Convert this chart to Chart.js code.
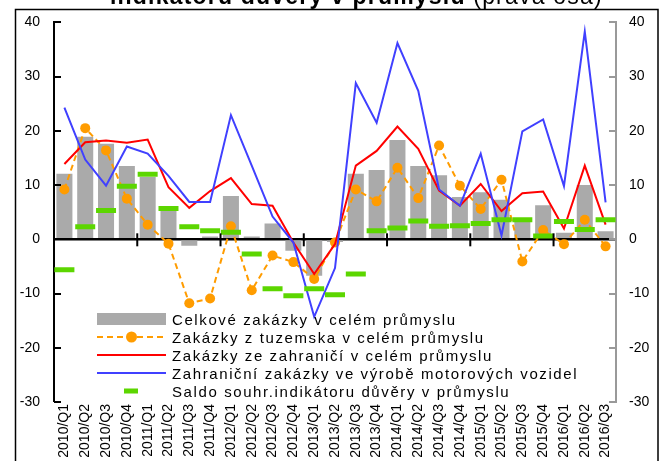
<!DOCTYPE html>
<html>
<head>
<meta charset="utf-8">
<script src="https://cdn.jsdelivr.net/npm/chart.js@4.4.0/dist/chart.umd.min.js"></script>
<style>
html,body{margin:0;padding:0;background:#fff;}
#wrap{width:662px;height:461px;position:relative;overflow:hidden;}
</style>
</head>
<body>
<div id="wrap"><canvas id="graf" width="662" height="461"></canvas></div>
<script>
var kvartaly = ['2010/Q1','2010/Q2','2010/Q3','2010/Q4','2011/Q1','2011/Q2','2011/Q3','2011/Q4',
	'2012/Q1','2012/Q2','2012/Q3','2012/Q4','2013/Q1','2013/Q2','2013/Q3','2013/Q4',
	'2014/Q1','2014/Q2','2014/Q3','2014/Q4','2015/Q1','2015/Q2','2015/Q3','2015/Q4',
	'2016/Q1','2016/Q2','2016/Q3'];
var celkove = [12.1, 18.9, 17.6, 13.5, 11.5, 5.5, -1.2, 0.5, 8.0, 0.5, 2.9, -2.1, -6.7, -0.5,
	12.1, 12.8, 18.3, 13.5, 11.8, 7.8, 8.7, 7.3, 3.3, 6.3, 1.2, 10.0, 1.5];
var tuzemsko = [9.2, 20.5, 16.4, 7.5, 2.7, -0.8, -11.8, -10.9, 2.4, -9.4, -3.0, -4.2, -7.3, -0.6,
	9.2, 7.0, 13.2, 7.6, 17.3, 9.9, 5.6, 11.0, -4.1, 1.7, -0.9, 3.6, -1.3];
var zahranici = [13.9, 17.9, 18.2, 17.8, 18.4, 9.6, 5.8, 8.9, 11.3, 6.5, 6.2, -0.6, -6.4, -0.9,
	13.6, 16.3, 20.8, 16.7, 9.0, 6.2, 10.2, 5.2, 8.5, 8.8, 2.0, 13.6, 2.7];
var vozidla = [24.3, 14.7, 9.9, 17.1, 15.8, 11.7, 6.9, 6.9, 22.9, 13.6, 4.2, -0.6, -14.3, -5.3,
	28.8, 21.5, 36.2, 27.4, 9.2, 6.2, 15.8, 0.7, 19.9, 22.1, 9.8, 38.3, 6.8];
var saldo = [-5.6, 2.3, 5.3, 9.8, 12.0, 5.7, 2.3, 1.6, 1.3, -2.7, -9.1, -10.4, -9.1, -10.2,
	-6.4, 1.6, 2.1, 3.4, 2.4, 2.5, 2.9, 3.6, 3.6, 0.6, 3.3, 1.8, 3.6];
var osaMin = -30, osaMax = 40, osaKrok = 10;

var sediva = '#aaaaaa', oranzova = '#ff9c00', cervena = '#ff0000', modra = '#4040ff', zelena = '#5cd600';

// ramecek, titulek, ticky na osach a legenda
var kresleni = {
	id: 'kresleni',
	beforeDraw: function(chart) {
		var ctx = chart.ctx;
		ctx.save();
		ctx.fillStyle = '#fff';
		ctx.fillRect(0, 0, chart.width, chart.height);
		ctx.strokeStyle = '#000';
		ctx.lineWidth = 1.5;
		ctx.beginPath();
		ctx.moveTo(15.5, 470); ctx.lineTo(15.5, 9.5); ctx.lineTo(658, 9.5); ctx.lineTo(658, 470);
		ctx.stroke();
		// titulek (useknuty nahore)
		ctx.fillStyle = '#000';
		ctx.textBaseline = 'alphabetic';
		if ('letterSpacing' in ctx) ctx.letterSpacing = '1.2px';
		ctx.font = 'bold 23px "Liberation Sans", Arial, sans-serif';
		var t1 = 'indikátoru důvěry v průmyslu ';
		ctx.fillText(t1, 110, 4);
		var w = ctx.measureText(t1).width;
		ctx.font = '23px "Liberation Sans", Arial, sans-serif';
		ctx.fillText('(pravá osa)', 110 + w, 4);
		ctx.restore();
	},
	afterDraw: function(chart) {
		var ctx = chart.ctx;
		var a = chart.chartArea;
		var y = chart.scales.y, y2 = chart.scales.y2, x = chart.scales.x;
		ctx.save();
		// ticky dovnitr
		ctx.lineWidth = 2;
		y.ticks.forEach(function(t) {
			var p = Math.round(y.getPixelForValue(t.value));
			ctx.strokeStyle = '#000';
			ctx.beginPath(); ctx.moveTo(a.left, p); ctx.lineTo(a.left + 7, p); ctx.stroke();
		});
		y2.ticks.forEach(function(t) {
			var p = Math.round(y2.getPixelForValue(t.value));
			ctx.strokeStyle = '#999';
			ctx.beginPath(); ctx.moveTo(a.right, p); ctx.lineTo(a.right - 7, p); ctx.stroke();
		});
		// ticky na nulove ose po rocich
		var nula = y.getPixelForValue(0);
		ctx.strokeStyle = '#000';
		for (var i = 4; i < kvartaly.length; i += 4) {
			var px = (x.getPixelForValue(i - 1) + x.getPixelForValue(i)) / 2;
			ctx.beginPath(); ctx.moveTo(px, nula - 6); ctx.lineTo(px, nula + 7); ctx.stroke();
		}
		// legenda
		var ds = chart.data.datasets;
		var x0 = 97, x1 = 166, tx = 172, y0 = 319, krok = 18;
		ctx.font = '15px "Liberation Sans", Arial, sans-serif';
		if ('letterSpacing' in ctx) ctx.letterSpacing = '1.6px';
		ctx.textBaseline = 'alphabetic';
		ds.forEach(function(d, k) {
			var cy = y0 + k * krok;
			ctx.setLineDash([]);
			if (k === 0) {
				ctx.fillStyle = sediva;
				ctx.fillRect(x0, cy - 6, x1 - x0, 12);
			} else if (k === 1) {
				ctx.strokeStyle = oranzova; ctx.lineWidth = 2; ctx.setLineDash([6, 4]);
				ctx.beginPath(); ctx.moveTo(x0, cy); ctx.lineTo(x1, cy); ctx.stroke();
				ctx.setLineDash([]);
				ctx.fillStyle = oranzova;
				ctx.beginPath(); ctx.arc((x0 + x1) / 2, cy, 5.5, 0, Math.PI * 2); ctx.fill();
			} else if (k === 4) {
				ctx.fillStyle = zelena;
				ctx.fillRect(124, cy - 2.5, 14, 5);
			} else {
				ctx.strokeStyle = d.borderColor; ctx.lineWidth = 2;
				ctx.beginPath(); ctx.moveTo(x0, cy); ctx.lineTo(x1, cy); ctx.stroke();
			}
			ctx.fillStyle = '#000';
			ctx.fillText(d.label, tx, cy + 6);
		});
		ctx.restore();
	}
};

var ctx = document.getElementById('graf');
var graf = new Chart(ctx, {
	type: 'bar',
	data: {
		labels: kvartaly,
		datasets: [
			{
				label: 'Celkové zakázky v celém průmyslu',
				data: celkove,
				backgroundColor: sediva,
				barPercentage: 0.77,
				categoryPercentage: 1,
				yAxisID: 'y',
				order: 5
			},
			{
				type: 'line',
				label: 'Zakázky z tuzemska v celém průmyslu',
				data: tuzemsko,
				borderColor: oranzova,
				backgroundColor: oranzova,
				borderWidth: 2,
				borderDash: [6, 4],
				pointRadius: 5,
				pointBorderWidth: 0,
				pointBackgroundColor: oranzova,
				tension: 0,
				yAxisID: 'y',
				order: 4
			},
			{
				type: 'line',
				label: 'Zakázky ze zahraničí v celém průmyslu',
				data: zahranici,
				borderColor: cervena,
				borderWidth: 2,
				pointRadius: 0,
				tension: 0,
				yAxisID: 'y',
				order: 3
			},
			{
				type: 'line',
				label: 'Zahraniční zakázky ve výrobě motorových vozidel',
				data: vozidla,
				borderColor: modra,
				borderWidth: 2,
				pointRadius: 0,
				tension: 0,
				yAxisID: 'y',
				order: 2
			},
			{
				type: 'line',
				label: 'Saldo souhr.indikátoru důvěry v průmyslu',
				data: saldo,
				showLine: false,
				borderColor: zelena,
				pointStyle: 'line',
				pointRadius: 10,
				pointBorderWidth: 5,
				pointBorderColor: zelena,
				yAxisID: 'y2',
				order: 1
			}
		]
	},
	options: {
		responsive: false,
		animation: false,
		devicePixelRatio: 1,
		layout: { padding: { top: 17, left: 0, right: 0, bottom: 0 } },
		plugins: {
			legend: { display: false },
			tooltip: { enabled: false },
			title: { display: false }
		},
		scales: {
			x: {
				offset: true,
				grid: { display: false, drawTicks: false },
				border: { display: false },
				ticks: {
					autoSkip: false,
					minRotation: 90,
					maxRotation: 90,
					padding: 2,
					color: '#000',
					font: { family: '"Liberation Sans", Arial, sans-serif', size: 14 }
				},
				afterFit: function(s) { s.height = 59; }
			},
			y: {
				position: 'left',
				min: osaMin, max: osaMax,
				ticks: {
					stepSize: osaKrok,
					padding: 14,
					color: '#000',
					font: { family: '"Liberation Sans", Arial, sans-serif', size: 14 }
				},
				grid: {
					drawTicks: false,
					color: function(c) { return c.tick && c.tick.value === 0 ? '#000' : 'rgba(0,0,0,0)'; },
					lineWidth: function(c) { return c.tick && c.tick.value === 0 ? 2.5 : 0; }
				},
				border: { display: true, color: '#000', width: 2 },
				afterFit: function(s) { s.width = 54; }
			},
			y2: {
				position: 'right',
				min: osaMin, max: osaMax,
				ticks: {
					stepSize: osaKrok,
					padding: 13,
					color: '#000',
					font: { family: '"Liberation Sans", Arial, sans-serif', size: 14 }
				},
				grid: { display: false, drawTicks: false },
				border: { display: true, color: '#999', width: 2 },
				afterFit: function(s) { s.width = 46; }
			}
		}
	},
	plugins: [kresleni]
});
</script>
</body>
</html>
